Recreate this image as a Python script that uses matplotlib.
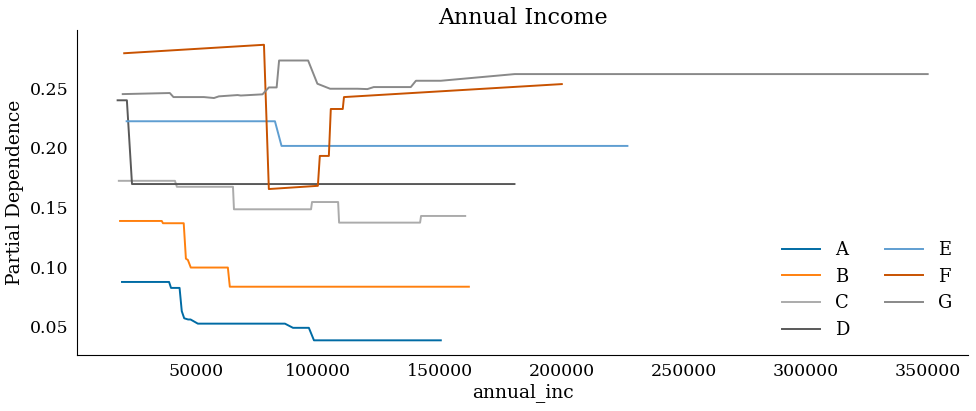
import matplotlib
matplotlib.use("Agg")
import matplotlib.pyplot as plt

plt.style.use("tableau-colorblind10")
plt.rcParams["font.family"] = "DejaVu Serif"

labels = ["A", "B", "C", "D", "E", "F", "G"]

a_x = [19700, 39000, 39800, 43300, 44200, 45200, 46800, 47800, 50800, 86500, 89800, 96300, 98400, 150400]
a_y = [0.0875, 0.0875, 0.0825, 0.0825, 0.063, 0.057, 0.056, 0.056, 0.0525, 0.0525, 0.049, 0.049, 0.0385, 0.0385]

b_x = [18900, 36000, 36500, 45000, 45900, 46700, 47900, 63100, 63900, 161900]
b_y = [0.1387, 0.1387, 0.1368, 0.1368, 0.107, 0.106, 0.0996, 0.0996, 0.0835, 0.0835]

c_x = [18400, 41400, 42200, 65200, 65600, 97200, 97600, 108300, 108700, 141900, 142300, 160400]
c_y = [0.1724, 0.1724, 0.1674, 0.1674, 0.1485, 0.1485, 0.1546, 0.1546, 0.1373, 0.1373, 0.1429, 0.1429]

d_x = [17900, 21700, 23800, 180600]
d_y = [0.2400, 0.2400, 0.1697, 0.1697]

e_x = [21600, 82400, 85100, 226900]
e_y = [0.2224, 0.2224, 0.2017, 0.2017]

f_x = [20600, 77900, 79900, 100000, 100800, 104500, 105300, 110200, 110700, 200000]
f_y = [0.2795, 0.2866, 0.1655, 0.1682, 0.1933, 0.1933, 0.2327, 0.2327, 0.2427, 0.2536]

g_x = [20000, 39300, 40800, 53300, 57400, 59400, 67100, 68400, 77300, 79900, 83100, 84100,
       96000, 99800, 105000, 116200, 120300, 122900, 138100, 140200, 150400, 180700, 350000]
g_y = [0.2452, 0.2461, 0.2427, 0.2427, 0.2419, 0.2433, 0.2444, 0.2440, 0.2450, 0.2508, 0.2508, 0.2734,
       0.2734, 0.2539, 0.2497, 0.2497, 0.2494, 0.2511, 0.2511, 0.2564, 0.2564, 0.2620, 0.2620]

series = [(a_x, a_y), (b_x, b_y), (c_x, c_y), (d_x, d_y), (e_x, e_y), (f_x, f_y), (g_x, g_y)]

fig, ax = plt.subplots(figsize=(9.76, 4.11), dpi=100)
fig.subplots_adjust(left=0.079, right=0.992, top=0.927, bottom=0.136)

for lab, (xs, ys) in zip(labels, series):
    ax.plot(xs, ys, label=lab, linewidth=1.4)

ax.spines["top"].set_visible(False)
ax.spines["right"].set_visible(False)
ax.tick_params(length=0, labelsize=12.5, pad=6)
ax.set_xticks([50000, 100000, 150000, 200000, 250000, 300000, 350000])
ax.set_yticks([0.05, 0.10, 0.15, 0.20, 0.25])
ax.set_title("Annual Income", fontsize=16, pad=4)
ax.set_xlabel("annual_inc", fontsize=13.5, labelpad=2)
ax.set_ylabel("Partial Dependence", fontsize=13.5)
ax.legend(ncol=2, frameon=False, loc="lower right", fontsize=13,
          columnspacing=2.0, handlelength=2.1, handletextpad=0.8,
          labelspacing=0.48, bbox_to_anchor=(1.0, 0.0))

fig.savefig("out.png", dpi=100)
